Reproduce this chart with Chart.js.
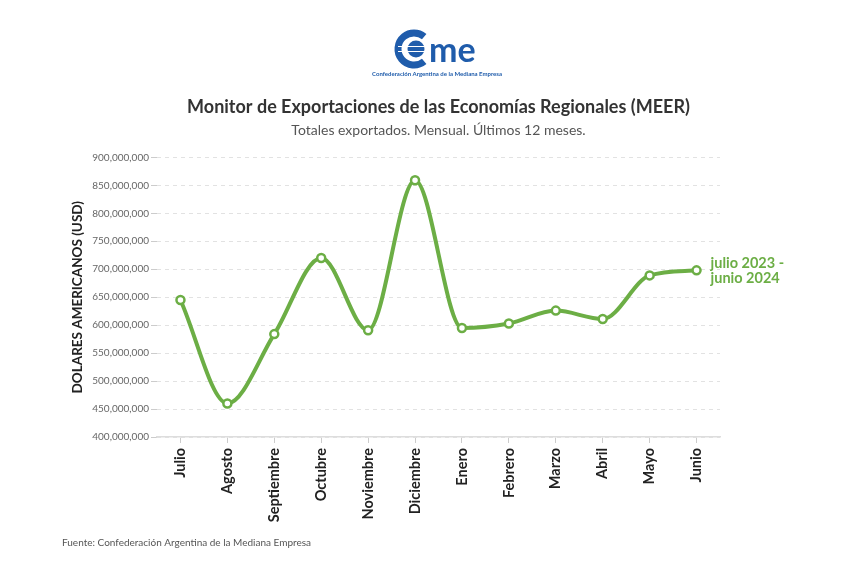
<!DOCTYPE html>
<html>
<head>
<meta charset="utf-8">
<script src="https://cdn.jsdelivr.net/npm/chart.js@4.4.1/dist/chart.umd.min.js"></script>
<style>
    html, body { margin: 0; padding: 0; background: #fff; }
</style>
</head>
<body>
<canvas id="myChart" width="849" height="570"></canvas>
<script>
// datos (USD por mes)
var meses = ["Julio", "Agosto", "Septiembre", "Octubre", "Noviembre", "Diciembre",
             "Enero", "Febrero", "Marzo", "Abril", "Mayo", "Junio"]
var exportaciones = [645000000, 460000000, 584000000, 720000000, 591000000, 859000000,
                     595000000, 603000000, 626000000, 611000000, 689000000, 698000000]
var yTicks = [400000000, 450000000, 500000000, 550000000, 600000000, 650000000,
              700000000, 750000000, 800000000, 850000000, 900000000]
var serieLabel = ["julio 2023 -", "junio 2024"]

var verde = "#6cae45"
var azul = "#1f5cab"

// logo, fondo y fuente
var decoracion = {
    id: "decoracion",
    beforeDraw: function(chart) {
        var ctx = chart.ctx
        ctx.save()
        ctx.fillStyle = "#fff"
        ctx.fillRect(0, 0, chart.width, chart.height)

        // logo CAME
        ctx.strokeStyle = azul
        ctx.fillStyle = azul
        ctx.lineWidth = 7
        ctx.beginPath()
        ctx.arc(414, 49, 16, 0.28 * Math.PI, 1.72 * Math.PI, false)
        ctx.stroke()
        ctx.beginPath()
        ctx.arc(416, 49, 8.5, 0, 2 * Math.PI)
        ctx.fill()
        ctx.strokeStyle = "#fff"
        ctx.lineWidth = 1
        ctx.beginPath()
        ctx.moveTo(398, 46.5); ctx.lineTo(426, 46.5)
        ctx.moveTo(398, 51.5); ctx.lineTo(426, 51.5)
        ctx.stroke()
        ctx.font = "bold 34px Lato"
        ctx.textBaseline = "alphabetic"
        ctx.fillText("me", 429, 62)
        ctx.font = "bold 6px Lato"
        ctx.textAlign = "center"
        ctx.fillText("Confederación Argentina de la Mediana Empresa", 437, 76)

        // fuente
        ctx.textAlign = "left"
        ctx.fillStyle = "#555"
        ctx.font = "10px Lato"
        ctx.textBaseline = "middle"
        ctx.fillText("Fuente: Confederación Argentina de la Mediana Empresa", 62, 543)
        ctx.restore()
    },
    afterDatasetsDraw: function(chart) {
        var meta = chart.getDatasetMeta(0)
        var last = meta.data[meta.data.length - 1]
        var ctx = chart.ctx
        ctx.save()
        ctx.fillStyle = verde
        ctx.font = "bold 14.5px Lato"
        ctx.textBaseline = "middle"
        ctx.fillText(serieLabel[0], last.x + 14, last.y - 7)
        ctx.fillText(serieLabel[1], last.x + 14, last.y + 8)
        ctx.restore()
    }
}

var ctx = document.getElementById("myChart").getContext("2d")

var chart = new Chart(ctx, {
    type: "line",
    data: {
        labels: meses,
        datasets: [{
            label: "julio 2023 - junio 2024",
            data: exportaciones,
            borderColor: verde,
            borderWidth: 4,
            cubicInterpolationMode: "monotone",
            pointRadius: 4,
            pointBorderWidth: 2.5,
            pointBackgroundColor: "#fff",
            pointBorderColor: verde,
            fill: false,
            clip: false
        }]
    },
    options: {
        responsive: false,
        animation: false,
        layout: {
            padding: { left: 66, right: 129, top: 0, bottom: 33 }
        },
        plugins: {
            legend: { display: false },
            tooltip: { enabled: false },
            title: {
                display: true,
                fullSize: false,
                text: "Monitor de Exportaciones de las Economías Regionales (MEER)",
                color: "#333",
                font: { family: "Lato", size: 18, weight: "bold" },
                padding: { top: 96, bottom: 4 }
            },
            subtitle: {
                display: true,
                fullSize: false,
                text: "Totales exportados. Mensual. Últimos 12 meses.",
                color: "#555",
                font: { family: "Lato", size: 14 },
                padding: { top: 0, bottom: 19 }
            }
        },
        scales: {
            x: {
                offset: true,
                afterFit: function(scale) { scale.height = 100 },
                border: { color: "#ddd", width: 1.5 },
                grid: {
                    display: true,
                    drawOnChartArea: false,
                    drawTicks: true,
                    tickLength: 6,
                    tickColor: "#ccc"
                },
                ticks: {
                    autoSkip: false,
                    minRotation: 90,
                    maxRotation: 90,
                    padding: 5,
                    color: "#222",
                    font: { family: "Lato", size: 14.5, weight: "bold" }
                }
            },
            y: {
                min: 400000000,
                max: 900000000,
                afterFit: function(scale) { scale.width = 91 },
                afterBuildTicks: function(scale) {
                    scale.ticks = yTicks.map(function(v) { return { value: v } })
                },
                border: { display: false, dash: [4, 4] },
                grid: {
                    color: "#e2e2e2",
                    tickColor: "#ccc",
                    tickLength: 6,
                    tickBorderDash: []
                },
                ticks: {
                    padding: 2,
                    color: "#666",
                    font: { family: "Lato", size: 10 },
                    callback: function(v) {
                        return v.toLocaleString("en-US")
                    }
                },
                title: {
                    display: true,
                    text: "DOLARES AMERICANOS (USD)",
                    color: "#222",
                    font: { family: "Lato", size: 13.5, weight: "bold" },
                    padding: { top: 4, bottom: 4 }
                }
            }
        }
    },
    plugins: [decoracion]
})
</script>
</body>
</html>
